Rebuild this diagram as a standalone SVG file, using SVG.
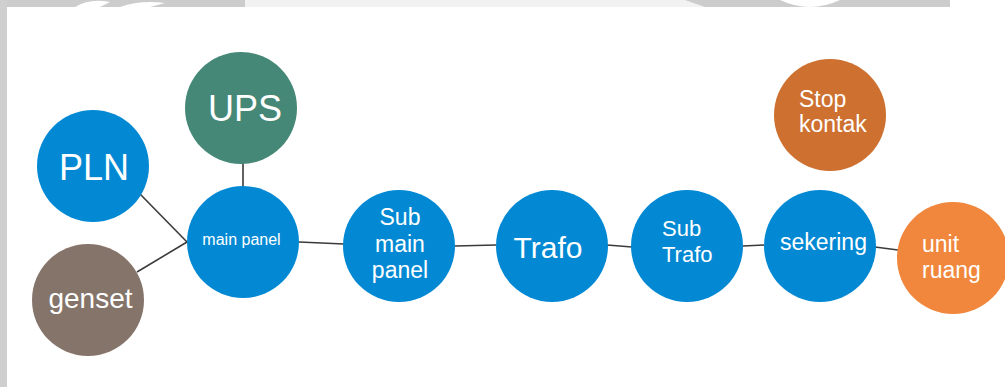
<svg xmlns="http://www.w3.org/2000/svg" width="1005" height="387" viewBox="0 0 1005 387">
<style>
.t{font-family:"Liberation Sans",Arial,sans-serif;fill:#ffffff}
.c{text-anchor:middle}
.blue{fill:#0389D3}
.edge{stroke:#3a3a3a;stroke-width:1.6;fill:none}
</style>
<g id="background">
<rect x="0" y="0" width="1005" height="387" fill="#ffffff"/>
<rect x="0" y="0" width="950" height="7" fill="#cccccc"/>
<rect x="245" y="0" width="440" height="7" fill="#f2f2f2"/>
<path d="M685,0 L705,7 L685,7 Z" fill="#f2f2f2"/>
<path d="M780,0 Q810,14 840,0 Z" fill="#ffffff"/>
<path d="M75,7 Q90,-2 110,2 L100,7 Z" fill="#ffffff"/>
<path d="M120,7 Q140,0 165,3 L150,7 Z" fill="#ffffff"/>
<rect x="0" y="0" width="7" height="387" fill="#cfcfcf"/>
</g>
<g id="connectors">
<line class="edge" x1="140" y1="194" x2="187" y2="242"/>
<line class="edge" x1="137" y1="272" x2="187" y2="242"/>
<line class="edge" x1="243" y1="163" x2="243" y2="187"/>
<line class="edge" x1="299" y1="242" x2="344" y2="244"/>
<line class="edge" x1="455" y1="246" x2="496" y2="245"/>
<line class="edge" x1="607" y1="245" x2="632" y2="247"/>
<line class="edge" x1="743" y1="246" x2="764" y2="245"/>
<line class="edge" x1="875" y1="247" x2="898" y2="250"/>
</g>
<g id="pln">
<circle class="blue" cx="93" cy="166" r="56"/>
<text class="t c" x="94" y="180" font-size="36">PLN</text>
</g>
<g id="ups">
<circle cx="241" cy="108" r="56" fill="#458877"/>
<text class="t c" x="245" y="121" font-size="36">UPS</text>
</g>
<g id="genset">
<circle cx="88" cy="300" r="56" fill="#85746A"/>
<text class="t c" x="90.5" y="308" font-size="28">genset</text>
</g>
<g id="main-panel">
<circle class="blue" cx="243" cy="242" r="56"/>
<text class="t c" x="241.5" y="245" font-size="16">main panel</text>
</g>
<g id="sub-main-panel">
<circle class="blue" cx="399" cy="246" r="56"/>
<text class="t c" x="400" y="225" font-size="23">Sub</text>
<text class="t c" x="400" y="252" font-size="23">main</text>
<text class="t c" x="400" y="278" font-size="23">panel</text>
</g>
<g id="trafo">
<circle class="blue" cx="552" cy="246" r="56"/>
<text class="t c" x="548" y="258" font-size="30">Trafo</text>
</g>
<g id="sub-trafo">
<circle class="blue" cx="687" cy="246" r="56"/>
<text class="t" x="662" y="236" font-size="22">Sub</text>
<text class="t" x="662" y="262" font-size="22">Trafo</text>
</g>
<g id="sekering">
<circle class="blue" cx="820" cy="246" r="56"/>
<text class="t" x="780" y="250" font-size="23">sekering</text>
</g>
<g id="stop-kontak">
<circle cx="830" cy="115" r="56" fill="#CD7030"/>
<text class="t" x="799" y="107" font-size="23">Stop</text>
<text class="t" x="799" y="132" font-size="23">kontak</text>
</g>
<g id="unit-ruang">
<circle cx="953" cy="258" r="56" fill="#F0873C"/>
<text class="t" x="922" y="252" font-size="23">unit</text>
<text class="t" x="922" y="278" font-size="23">ruang</text>
</g>
</svg>
